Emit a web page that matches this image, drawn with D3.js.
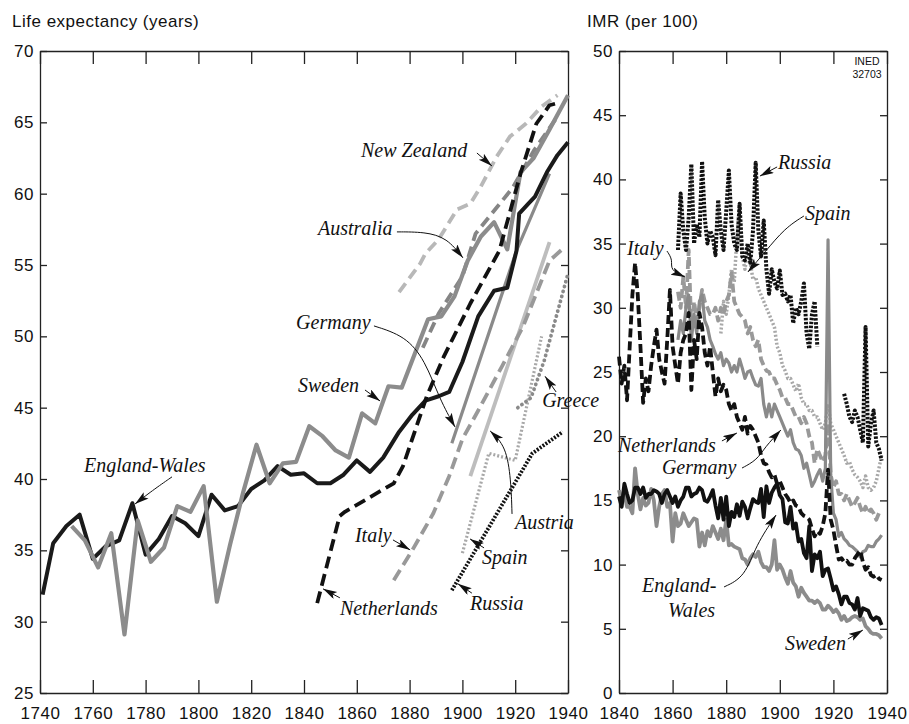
<!DOCTYPE html>
<html>
<head>
<meta charset="utf-8">
<script src="https://cdn.jsdelivr.net/npm/d3@7"></script>
<style>
body { margin: 0; background: #fff; }
svg text { font-family: "Liberation Sans", Arial, sans-serif; fill: #111; }
svg text.lab { font-family: "Liberation Serif", "Times New Roman", serif; font-style: italic; font-size: 20px; }
</style>
</head>
<body>
<svg id="chart" width="909" height="724"></svg>
<script>
// ---- life expectancy (left panel) ----
const ewYears = [1741,1745,1750,1755,1760,1765,1770,1775,1780,1785,1790,1795,1800,1805,1810,1815,1820,1825,1830,1835,1840,1845,1850,1855,1860,1865,1870,1876,1881,1886,1891,1895,1900,1906,1912,1917,1920.5,1921.5,1925,1927.5,1932,1936,1940];
const ewLE = [31.9,35.5,36.7,37.5,34.4,35.3,35.7,38.3,34.7,35.8,37.4,36.9,36.0,38.9,37.8,38.1,39.3,39.9,40.9,40.3,40.4,39.7,39.7,40.3,41.3,40.5,41.5,43.3,44.5,45.5,45.8,46.1,48.2,51.4,53.2,53.4,56.0,58.6,59.3,59.8,61.5,62.7,63.6];
const swYears = [1752,1757,1762,1767,1772,1777,1782,1787,1792,1797,1802,1807,1812,1817,1822,1827,1832,1837,1842,1847,1852,1857,1862,1867,1872,1877,1882,1887,1892,1897,1902,1907,1912,1917,1922,1927,1933,1940];
const swLE = [36.7,35.7,33.8,36.2,29.1,37.1,34.2,35.2,38.1,37.7,39.5,31.4,35.4,39.1,42.4,39.7,41.1,41.2,43.7,43.0,42.0,41.5,44.6,43.9,46.5,46.4,48.8,51.2,51.4,52.8,55.3,57.0,58.0,56.1,61.5,62.5,64.5,66.9];
const nzYears = [1876,1884,1886,1891,1898,1903,1907,1913,1918,1924,1930,1936];
const nzLE = [53.1,55.1,55.8,56.8,58.9,59.3,60.5,62.6,64.0,64.9,66.1,66.9];
const auYears = [1885,1891,1900,1905,1919,1927,1936];
const auLE = [49.2,51.6,54.2,57.2,60.4,63.0,65.4];
const nlYears = [1845,1853.5,1855.5,1874,1877.5,1886.5,1893,1903,1914,1922,1928,1933,1937];
const nlLE = [31.3,37.4,37.7,39.7,40.9,45.8,48.6,52.3,56.0,61.4,64.9,66.2,66.4];
const deYears = [1896,1920.5,1933];
const deLE = [42.5,56.0,61.4];
const itYears = [1874,1881,1889,1895,1900,1906,1915,1923,1933,1939];
const itLE = [32.9,35.0,37.6,40.2,42.8,44.8,47.9,50.7,55.3,56.3];
const atYears = [1903,1933];
const atLE = [40.2,56.6];
const esYears = [1900,1910,1920,1930];
const esLE = [34.8,41.8,41.3,50.0];
const ruYears = [1896,1926.5,1938];
const ruLE = [32.2,41.8,43.3];
const grYears = [1921,1926,1931,1940];
const grLE = [45.0,45.7,48.3,54.4];

// ---- infant mortality, per 100 (right panel), one value per year from a start year ----
const imrEwStart = 1840;
const imrEw = [15.3,14.5,16.3,15.5,14.8,15.0,16.0,16.0,15.5,16.0,
  15.2,15.5,15.5,15.8,15.7,15.5,14.8,15.5,15.8,15.3,
  14.8,15.3,14.5,15.0,15.3,16.0,16.0,15.3,15.5,15.6,
  16.0,15.8,15.0,14.9,15.3,15.8,14.6,13.6,15.2,13.5,
  15.3,13.0,14.1,13.7,14.7,13.8,14.9,14.5,13.6,14.4,
  15.1,14.9,14.8,15.9,13.7,16.1,14.8,15.6,16.0,16.3,
  15.4,15.1,13.3,13.2,14.5,12.8,13.2,11.8,12.0,10.9,
  10.5,13.0,9.5,10.8,10.5,11.0,9.1,9.6,9.7,8.9,
  8.0,8.3,7.7,6.9,7.5,7.5,7.0,6.9,6.5,7.4,
  6.0,6.6,6.5,6.4,5.9,5.7,5.9,5.8,5.3];
const imrSwStart = 1840;
const imrSw = [15.8,14.9,15.5,14.5,14.5,14.0,17.5,15.5,14.3,15.2,
  14.6,14.8,15.9,15.0,13.0,14.5,15.5,15.8,14.5,14.8,
  11.8,14.0,13.0,13.2,14.0,13.5,13.0,13.3,13.6,13.5,
  11.4,12.5,11.5,12.6,12.2,13.0,12.5,12.0,12.8,11.9,
  13.5,11.5,11.6,11.4,11.3,11.2,10.5,10.4,10.0,10.5,
  10.8,10.6,11.0,10.2,9.8,9.8,9.5,10.0,11.9,9.6,
  10.0,9.6,9.0,8.5,9.5,8.6,8.3,7.5,8.2,7.8,
  7.5,7.2,7.2,7.0,7.2,7.0,6.5,6.5,6.8,6.6,
  6.3,6.5,6.2,5.7,6.0,5.6,5.7,5.9,6.0,5.9,
  5.7,5.8,5.2,5.0,4.7,4.6,4.6,4.5,4.25];
const imrNlStart = 1840;
const imrNl = [26.2,24.1,25.5,22.8,27.0,31.0,33.5,31.0,27.0,22.6,
  24.5,23.5,25.5,27.0,28.3,26.0,25.0,24.1,27.5,31.4,
  27.0,25.5,24.1,26.5,27.5,28.0,29.6,23.6,27.5,26.0,
  29.6,28.5,26.5,25.5,27.0,25.0,23.1,24.5,23.5,24.0,
  23.6,22.5,22.0,22.5,21.5,21.0,20.5,21.5,20.2,20.8,
  20.5,20.0,19.5,18.5,17.9,17.8,17.2,16.8,17.0,16.3,
  16.5,16.0,15.5,15.2,14.8,15.0,14.6,14.5,14.0,13.8,
  13.7,13.5,12.8,12.2,12.6,12.4,13.0,14.0,17.4,13.5,
  12.7,11.5,10.4,10.5,10.2,10.3,10.0,10.0,10.5,10.8,
  11.1,10.2,9.6,9.8,9.2,9.05,9.2,8.9,8.8];
const imrDeStart = 1862;
const imrDe = [27.5,29.0,28.0,30.0,31.0,27.5,29.5,28.0,
  30.5,31.0,29.0,28.5,27.5,27.0,26.4,26.0,26.5,25.5,
  26.0,25.7,25.0,25.5,25.0,26.0,25.3,24.5,25.0,25.1,
  24.5,24.0,23.9,24.5,22.5,21.5,22.5,21.5,22.5,22.0,
  21.5,21.0,20.5,20.0,20.5,19.5,19.0,18.9,18.5,17.5,
  17.9,17.0,16.1,16.5,17.0,17.4,16.5,17.5,35.3,17.0,
  14.0,13.5,12.2,12.5,12.0,11.8,11.5,11.4,11.2,11.0,
  10.6,11.0,11.1,11.5,11.4,11.4,11.8,12.0,12.3];
const imrItStart = 1862;
const imrIt = [31.25,30.0,32.4,30.0,34.5,28.3,30.5,29.0,
  30.0,31.4,30.5,30.0,29.5,29.5,30.0,29.0,30.0,29.5,
  30.5,31.0,32.7,30.5,30.0,29.5,29.3,29.0,28.0,28.5,
  27.5,27.0,27.5,26.0,25.5,25.1,25.0,24.5,24.5,24.0,
  23.6,23.0,23.0,22.5,22.5,22.0,21.5,21.5,21.0,21.5,
  21.0,20.0,19.5,17.9,19.0,18.5,18.0,18.5,21.0,17.0,
  16.0,16.5,15.5,15.5,15.0,15.5,15.0,14.5,14.8,15.2,
  14.5,14.0,14.5,14.0,14.3,14.0,13.5,14.0,14.0];
const imrEsStart = 1878;
const imrEs = [28.0,30.5,29.5,31.0,33.0,32.0,35.5,38.0,34.0,33.0,
  34.5,33.5,32.2,32.4,31.5,31.0,30.5,30.0,29.5,29.0,
  28.5,27.0,26.5,25.5,25.1,24.5,24.5,24.0,23.5,24.1,
  23.0,22.5,22.5,22.0,22.0,21.5,21.5,21.0,20.5,21.0,
  22.5,21.0,20.5,20.0,19.5,19.0,18.5,17.9,18.0,17.4,
  17.0,16.8,16.5,16.0,16.9,16.0,15.8,16.0,16.5,17.5,18.5];
const imrRuStart = 1862;
const imrRu = [34.5,38.9,36.0,34.5,37.0,41.2,35.0,36.5,
  35.5,41.4,37.0,35.0,36.0,35.5,34.1,38.4,36.0,34.5,
  37.5,40.7,36.5,35.0,34.5,38.1,34.0,33.7,35.0,33.5,
  36.0,41.3,36.0,34.0,36.8,33.0,31.1,33.0,32.0,31.5,
  32.9,31.0,31.1,30.5,31.0,28.8,30.0,29.5,30.5,31.9,
  28.0,26.8,29.5,30.5,27.0,null,null,null,null,null,
  null,null,null,null,23.3,22.5,21.5,21.1,22.0,21.5,
  20.5,19.5,28.5,19.2,21.0,22.0,19.5,19.0,18.1];

const leTicksX = d3.range(1740, 1941, 20);
const leTicksY = d3.range(25, 71, 5);
const imrTicksX = d3.range(1840, 1941, 20);
const imrTicksY = d3.range(0, 51, 5);

// annotations, in data units of each panel
const leNotes = [
  {text: 'New Zealand', at: [1861.6, 63.06], path: [[1905.5, 62.85], [1911.2, 61.94]]},
  {text: 'Australia', at: [1845.3, 57.6], path: [[1875.2, 57.32], [1885.8, 57.32], [1894.2, 56.9], [1900.2, 55.5]]},
  {text: 'Germany', at: [1837.0, 51.0], path: [[1866.5, 50.73], [1878.3, 50.03], [1885.8, 48.35], [1891.5, 45.54], [1897.2, 43.65]]},
  {text: 'Sweden', at: [1837.7, 46.6], path: [[1863.1, 46.24], [1868.8, 45.47]]},
  {text: 'England-Wales', at: [1756.7, 41.0], path: [[1790, 40.15], [1782.4, 39.17], [1776, 38.25]]},
  {text: 'Italy', at: [1859.3, 36.1], path: [[1873.7, 35.73], [1880.2, 35.03]]},
  {text: 'Netherlands', at: [1853.6, 30.97], path: [[1853.6, 31.67], [1847.2, 32.3]]},
  {text: 'Spain', at: [1907.4, 34.54], path: [[1908.2, 35.17], [1902.9, 35.8]]},
  {text: 'Russia', at: [1902.9, 31.3], path: [[1903.6, 32.0], [1898.3, 32.65]]},
  {text: 'Austria', at: [1919.9, 37.0], path: [[1918.8, 37.55], [1918.4, 39.94], [1916.5, 42.32], [1910.5, 43.37]]},
  {text: 'Greece', at: [1930.2, 45.54], path: [[1935.5, 46.1], [1931.3, 47.2]]}
];
const imrNotes = [
  {text: 'Russia', at: [1899.3, 41.36], path: [[1899.0, 40.97], [1892.6, 40.26]]},
  {text: 'Spain', at: [1909.4, 37.38], path: [[1909.0, 37.15], [1901.9, 36.21], [1894.5, 34.35], [1888.1, 32.79]]},
  {text: 'Italy', at: [1843.0, 34.66], path: [[1857.9, 34.42], [1860.1, 33.72], [1859.0, 32.94], [1864.6, 32.4]]},
  {text: 'Netherlands', at: [1839.6, 19.31], path: [[1878.4, 19.63], [1884.0, 20.25]]},
  {text: 'Germany', at: [1856.0, 17.6], path: [[1885.9, 17.52], [1891.5, 18.15], [1894.5, 19.16], [1900.4, 20.48]]},
  {text: 'England-', at: [1848.6, 8.41], path: [[1879.2, 8.26], [1887.0, 9.03], [1891.1, 11.53], [1898.6, 13.86]]},
  {text: 'Wales', at: [1858.3, 6.46], path: null},
  {text: 'Sweden', at: [1901.9, 3.89], path: [[1925.4, 4.2], [1931.0, 4.9]]}
];

const svg = d3.select('#chart');

svg.append('defs').append('marker')
    .attr('id', 'head')
    .attr('markerUnits', 'userSpaceOnUse')
    .attr('markerWidth', 16).attr('markerHeight', 10)
    .attr('refX', 14).attr('refY', 4)
    .attr('orient', 'auto')
  .append('path')
    .attr('d', 'M0,0 L14,4 L0,8 L3,4 Z')
    .attr('fill', '#111');

const xL = d3.scaleLinear().domain([1740, 1940]).range([40, 568]);
const yL = d3.scaleLinear().domain([25, 70]).range([693, 51]);
const xR = d3.scaleLinear().domain([1840, 1940]).range([619, 887]);
const yR = d3.scaleLinear().domain([0, 50]).range([693, 51]);

function frame(x, y, tx, ty) {
    const g = svg.append('g');
    const x0 = x.range()[0], x1 = x.range()[1], y0 = y.range()[0], y1 = y.range()[1];
    g.append('g').attr('transform', 'translate(0,' + y0 + ')')
        .call(d3.axisBottom(x).tickValues(tx).tickSize(-13).tickSizeOuter(0).tickPadding(14).tickFormat(d3.format('d')));
    g.append('g').attr('transform', 'translate(0,' + y1 + ')')
        .call(d3.axisTop(x).tickValues(tx).tickSize(-13).tickSizeOuter(0).tickFormat(''));
    g.append('g').attr('transform', 'translate(' + x0 + ',0)')
        .call(d3.axisLeft(y).tickValues(ty).tickSize(-7).tickSizeOuter(0).tickPadding(6));
    g.append('g').attr('transform', 'translate(' + x1 + ',0)')
        .call(d3.axisRight(y).tickValues(ty).tickSize(-7).tickSizeOuter(0).tickFormat(''));
    g.selectAll('.domain').attr('stroke', '#222').attr('stroke-width', 1.3);
    g.selectAll('.tick line').attr('stroke', '#222').attr('stroke-width', 1.3);
    g.selectAll('.tick text').attr('font-size', 17).attr('letter-spacing', '0.5px').attr('fill', '#111');
}

function draw(x, y, pts, color, width, dash, cap) {
    const line = d3.line().defined(d => d[1] != null).x(d => x(d[0])).y(d => y(d[1]));
    svg.append('path')
        .attr('d', line(pts))
        .attr('fill', 'none')
        .attr('stroke', color)
        .attr('stroke-width', width)
        .attr('stroke-dasharray', dash || null)
        .attr('stroke-linecap', cap || 'butt')
        .attr('stroke-linejoin', 'round');
}

const zipYears = (ys, vs) => ys.map((yr, i) => [yr, vs[i]]);
const annual = (start, vs) => vs.map((v, i) => [start + i, v]);

function notes(x, y, list) {
    const arrow = d3.line().curve(d3.curveBasis).x(d => x(d[0])).y(d => y(d[1]));
    list.forEach(n => {
        svg.append('text').attr('class', 'lab')
            .attr('x', x(n.at[0])).attr('y', y(n.at[1])).attr('dy', '0.35em')
            .text(n.text);
        if (n.path) {
            svg.append('path').attr('d', arrow(n.path))
                .attr('fill', 'none').attr('stroke', '#111').attr('stroke-width', 1)
                .attr('marker-end', 'url(#head)');
        }
    });
}

// left panel
frame(xL, yL, leTicksX, leTicksY);
draw(xL, yL, zipYears(atYears, atLE), '#bdbdbd', 3.8);
draw(xL, yL, zipYears(esYears, esLE), '#a8a8a8', 3.2, '2,2');
draw(xL, yL, zipYears(grYears, grLE), '#8a8a8a', 3.8, '0.1,5', 'round');
draw(xL, yL, zipYears(itYears, itLE), '#999', 3.8, '12,6');
draw(xL, yL, zipYears(nzYears, nzLE), '#b8b8b8', 3.8, '11,6');
draw(xL, yL, zipYears(auYears, auLE), '#858585', 3.8, '11,6');
draw(xL, yL, zipYears(deYears, deLE), '#8a8a8a', 3.2);
draw(xL, yL, zipYears(ewYears, ewLE), '#1a1a1a', 4);
draw(xL, yL, zipYears(swYears, swLE), '#8c8c8c', 4.2);
draw(xL, yL, zipYears(nlYears, nlLE), '#111', 3.8, '12,6');
draw(xL, yL, zipYears(ruYears, ruLE), '#111', 3.8, '2,1.5');
notes(xL, yL, leNotes);

// right panel
frame(xR, yR, imrTicksX, imrTicksY);
draw(xR, yR, annual(imrEsStart, imrEs), '#a8a8a8', 3.5, '2,2');
draw(xR, yR, annual(imrItStart, imrIt), '#999', 3.8, '9,4');
draw(xR, yR, annual(imrDeStart, imrDe), '#8a8a8a', 3.2);
draw(xR, yR, annual(imrSwStart, imrSw), '#8c8c8c', 3.8);
draw(xR, yR, annual(imrRuStart, imrRu), '#111', 4, '2.5,1.5');
draw(xR, yR, annual(imrNlStart, imrNl), '#111', 3.8, '9,4');
draw(xR, yR, annual(imrEwStart, imrEw), '#111', 3.8);
notes(xR, yR, imrNotes);

// titles and source mark
svg.append('text').attr('x', 12).attr('y', 27).attr('font-size', 17).attr('letter-spacing', '0.5px').text('Life expectancy (years)');
svg.append('text').attr('x', 587).attr('y', 27).attr('font-size', 17).attr('letter-spacing', '0.5px').text('IMR (per 100)');
const srcFont = '"Liberation Sans Narrow", "Arial Narrow", sans-serif';
svg.append('text').attr('x', 867).attr('y', 65).attr('text-anchor', 'middle').attr('font-size', 10.5)
    .style('font-family', srcFont).text('INED');
svg.append('text').attr('x', 867).attr('y', 78).attr('text-anchor', 'middle').attr('font-size', 10.5)
    .style('font-family', srcFont).text('32703');
</script>
</body>
</html>
